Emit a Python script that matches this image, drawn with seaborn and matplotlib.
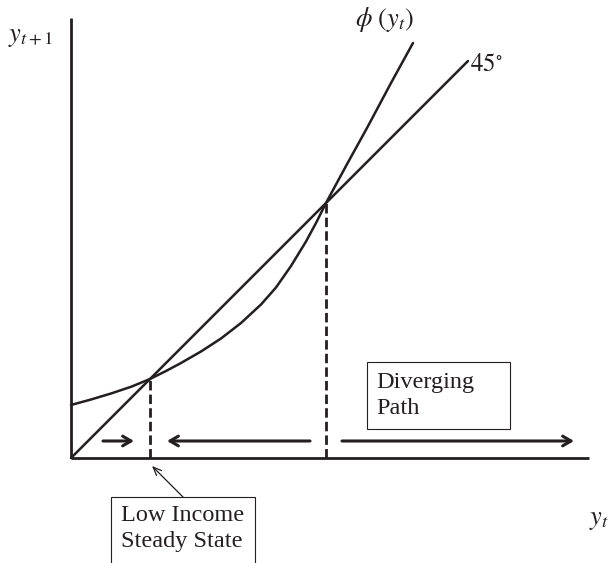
import matplotlib
matplotlib.use("Agg")
import matplotlib.pyplot as plt
import seaborn as sns
import pandas as pd
from matplotlib.patches import Rectangle

# phi(y_t)
phi_x = [0.0, 0.2, 0.4, 0.6, 0.79, 0.95, 1.10, 1.30, 1.50, 1.70,
         1.90, 2.05, 2.20, 2.35, 2.45, 2.55, 2.75, 2.96, 3.20, 3.42]
phi_y = [0.53, 0.585, 0.645, 0.712, 0.79, 0.87, 0.95, 1.065, 1.195, 1.35,
         1.535, 1.705, 1.92, 2.165, 2.35, 2.55, 2.92, 3.30, 3.75, 4.15]

# 45 degree line
diag_x = [0.0, 3.97]
diag_y = [0.0, 3.97]

low_ss = 0.79
high_ss = 2.55

INK = "#231f20"

sns.set_style("white")
plt.rcParams["mathtext.fontset"] = "stix"
plt.rcParams["font.family"] = ["Liberation Serif", "DejaVu Serif"]

fig = plt.figure(figsize=(6.15, 5.63), dpi=100)
ax = fig.add_axes([0, 0, 1, 1])

df_phi = pd.DataFrame({"x": phi_x, "y": phi_y})
df_diag = pd.DataFrame({"x": diag_x, "y": diag_y})
sns.lineplot(data=df_phi, x="x", y="y", ax=ax, color=INK, lw=1.8, sort=False)
sns.lineplot(data=df_diag, x="x", y="y", ax=ax, color=INK, lw=1.8)

# axes
ax.plot([0, 0], [0, 4.40], color=INK, lw=2.0, solid_capstyle="butt")
ax.plot([0, 5.18], [0, 0], color=INK, lw=2.0, solid_capstyle="butt")

# steady state verticals
for ss in [low_ss, high_ss]:
    ax.plot([ss, ss], [0, ss], color=INK, lw=2.0, ls=(0, (3.4, 1.5)))

# direction arrows
arrow_y = 0.17
akw = dict(arrowstyle="->,head_length=0.6,head_width=0.35", color=INK, lw=2.2,
           shrinkA=0, shrinkB=0)
ax.annotate("", xy=(0.63, arrow_y), xytext=(0.32, arrow_y), arrowprops=akw)
ax.annotate("", xy=(0.96, arrow_y), xytext=(2.39, arrow_y), arrowprops=akw)
ax.annotate("", xy=(5.03, arrow_y), xytext=(2.71, arrow_y), arrowprops=akw)

# boxes
ax.add_patch(Rectangle((2.96, 0.29), 1.43, 0.67, fill=False, lw=0.8, ec=INK))
ax.text(3.05, 0.86, "Diverging\nPath", fontsize=17.5, va="top", ha="left",
        color=INK, linespacing=1.3)

ax.add_patch(Rectangle((0.40, -1.2), 1.44, 0.81, fill=False, lw=0.8, ec=INK))
ax.text(0.50, -0.47, "Low Income\nSteady State", fontsize=17.5, va="top", ha="left",
        color=INK, linespacing=1.3)
ax.annotate("", xy=(0.81, -0.08), xytext=(1.12, -0.39),
            arrowprops=dict(arrowstyle="->,head_length=0.6,head_width=0.25",
                            color=INK, lw=0.9, shrinkA=0, shrinkB=0))

# labels
ax.text(-0.63, 4.20, "$y_{t+1}$", fontsize=19, color=INK, va="center")
ax.text(5.18, -0.63, "$y_t$", fontsize=19, color=INK, va="center")
ax.text(2.84, 4.38, r"$\phi\ (y_t)$", fontsize=19, color=INK, va="center")
ax.text(3.99, 3.93, r"$45^{\circ}$", fontsize=18, color=INK, va="center")

ax.set_xlim(-0.71, 5.44)
ax.set_ylim(-1.05, 4.58)
ax.axis("off")

fig.savefig("out.png", dpi=100)
